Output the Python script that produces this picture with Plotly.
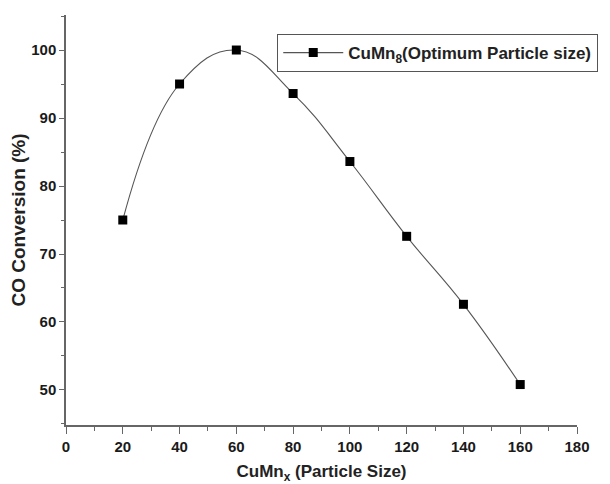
import plotly.graph_objects as go

particle_size = [20, 40, 60, 80, 100, 120, 140, 160]
co_conversion = [75.0, 95.0, 100.0, 93.6, 83.6, 72.6, 62.6, 50.8]
x_ticks = [0, 20, 40, 60, 80, 100, 120, 140, 160, 180]
y_ticks = [50, 60, 70, 80, 90, 100]

font_bold = "Liberation Sans"

trace = go.Scatter(
    x=particle_size, y=co_conversion,
    mode='lines+markers',
    name='<b>CuMn<sub>8</sub>(Optimum Particle size)</b>',
    line=dict(color='#555555', width=1.1, shape='spline', smoothing=1.2),
    marker=dict(symbol='square', size=9, color='black'),
)

fig = go.Figure([trace])

axis_common = dict(
    showline=True, linecolor='#666666', linewidth=1.5,
    ticks='outside', tickwidth=1.3, tickcolor='#666666',
    showgrid=False, zeroline=False, automargin=False,
    tickfont=dict(family=font_bold, size=15, color='#1a1a1a'),
    mirror=False,
)

# page body has an 8px margin, so the figure is a bit smaller than the window
fig.update_layout(
    width=602, height=476,
    margin=dict(l=58, r=33, t=7, b=59),
    paper_bgcolor='white', plot_bgcolor='white',
    font=dict(family=font_bold, color='#222222'),
    showlegend=True,
    legend=dict(
        x=0.413, y=0.954, xanchor='left', yanchor='top',
        bordercolor='#555555', borderwidth=1.2, itemwidth=60,
        font=dict(family=font_bold, size=17, color='#222222'),
        bgcolor='white',
    ),
    xaxis=dict(
        range=[0, 180], tickvals=x_ticks, ticklen=7,
        ticktext=[f'<b>{v}</b>' for v in x_ticks],
        minor=dict(dtick=10, tick0=0, ticks='outside', ticklen=4, tickcolor='#666666'),
        title=dict(text='<b>CuMn<sub>x</sub> (Particle Size)</b>',
                   font=dict(family=font_bold, size=17, color='#222222'), standoff=16),
        **axis_common,
    ),
    yaxis=dict(
        range=[44.85, 105.15], tickvals=y_ticks, ticklen=5,
        ticktext=[f'<b>{v}</b>' for v in y_ticks],
        minor=dict(dtick=5, tick0=0, ticks='outside', ticklen=3, tickcolor='#666666'),
        title=dict(text='<b>CO Conversion (%)</b>',
                   font=dict(family=font_bold, size=19, color='#222222'), standoff=4),
        **axis_common,
    ),
)

fig.write_html("out.html")
